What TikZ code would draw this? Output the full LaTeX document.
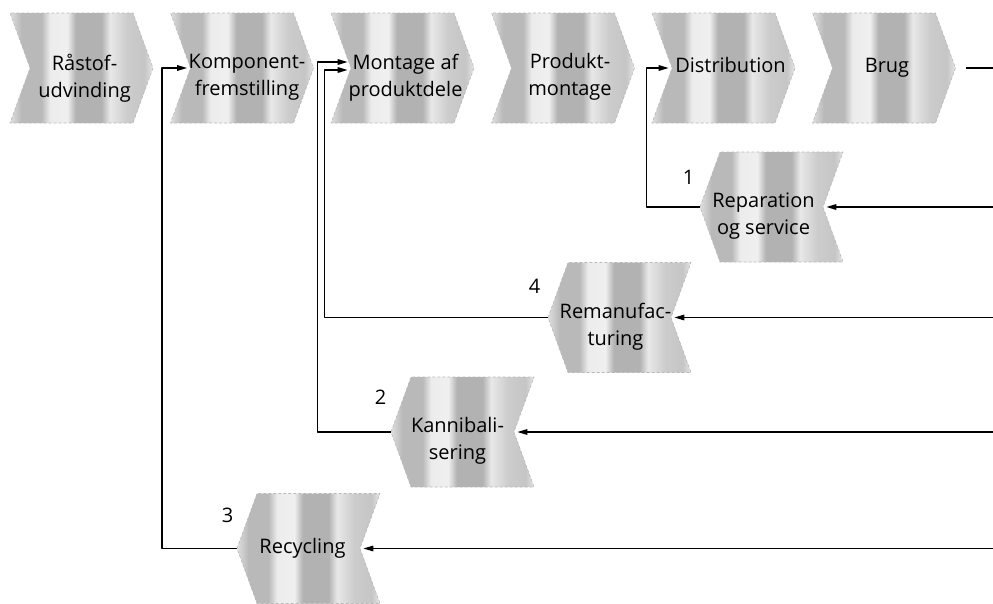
\documentclass[tikz,border=0pt]{standalone}
\usepackage{fontspec}
\setmainfont{Open Sans}
\usetikzlibrary{shapes.symbols,arrows.meta}

% scanned grey bands of the arrow boxes (tikz shows 25bp..75bp)
\pgfdeclarehorizontalshading{scanbands}{100bp}{%
  color(0bp)=(gray!25); color(25bp)=(gray!25); color(29bp)=(gray!55);
  color(36bp)=(gray!55); color(39bp)=(gray!15); color(45bp)=(gray!12);
  color(48bp)=(gray!60); color(57bp)=(gray!60); color(60bp)=(gray!18);
  color(66bp)=(gray!40); color(72bp)=(gray!45); color(75bp)=(gray!20);
  color(100bp)=(gray!20)}

\tikzset{
  stagebase/.style={signal, signal pointer angle=140, minimum width=143pt,
    minimum height=110pt, inner sep=0pt, shade, shading=scanbands,
    draw=gray!55, densely dashed, line width=0.6pt},
  stage/.style={stagebase, signal to=east, signal from=west},
  backstage/.style={stagebase, signal to=west, signal from=east},
  lbl/.style={font=\fontsize{20}{27}\selectfont, align=center, inner sep=0pt,
    anchor=north, execute at begin node=\strut},
  num/.style={font=\fontsize{20}{24}\selectfont, inner sep=0pt},
  flow/.style={-{Triangle[length=10pt,width=5.5pt]}, shorten >=3pt},
}

\begin{document}
\begin{tikzpicture}[x=1pt, y=-1pt, line width=1.5pt, line join=round]

  %% value chain
  \node[stage] (raastof) at (81.5,68) {};
  \node[stage] (komp)    at (242,68)  {};
  \node[stage] (mont)    at (402.5,68) {};
  \node[stage] (prod)    at (563,68)  {};
  \node[stage] (dist)    at (723.5,68) {};
  \node[stage] (brug)    at (884,68)  {};

  \node[lbl] (raastof-t) at ([shift={(3,-15)}]raastof.center) {Råstof-\\udvinding};
  \node[lbl] (komp-t)    at ([shift={(5,-15)}]komp.center) {Komponent-\\fremstilling};
  \node[lbl] (mont-t)    at ([shift={(3,-15)}]mont.center) {Montage af\\produktdele};
  \node[lbl] (prod-t)    at ([shift={(7,-15)}]prod.center) {Produkt-\\montage};
  \node[lbl] (dist-t)    at ([shift={(7,-15)}]dist.center) {Distribution};
  \node[lbl] (brug-t)    at ([shift={(3,-15)}]brug.center) {Brug};

  %% return loops
  \node[backstage] (rep) at (771.5,207)   {};
  \node[backstage] (rem) at (619.5,317.5) {};
  \node[backstage] (kan) at (462.5,432)   {};
  \node[backstage] (rec) at (308.5,548.5) {};

  \node[lbl] (rep-t) at ([shift={(-8,-15)}]rep.center) {Reparation\\og service};
  \node[lbl] (rem-t) at ([shift={(-4,-15)}]rem.center) {Remanufac-\\turing};
  \node[lbl] (kan-t) at ([shift={(-5,-15)}]kan.center) {Kannibali-\\sering};
  \node[lbl] (rec-t) at ([shift={(-6,-15)}]rec.center) {Recycling};

  \node[num] (n1) at ([shift={(-83,-30)}]rep.center) {1};
  \node[num] (n4) at ([shift={(-85,-31)}]rem.center) {4};
  \node[num] (n2) at ([shift={(-82,-35)}]kan.center) {2};
  \node[num] (n3) at ([shift={(-81,-33)}]rec.center) {3};

  %% connectors
  \coordinate (rim) at (993,0);
  \draw ([xshift=10pt]brug.0) -- (brug.0 -| rim);
  \draw[flow] (rep.0 -| rim) -- (rep.0);
  \draw[flow] (rem.0 -| rim) -- (rem.0);
  \draw[flow] (kan.0 -| rim) -- (kan.0);
  \draw[flow] (rec.0 -| rim) -- (rec.0);

  \draw[flow] (rep.180) -| ([xshift=-25pt]dist.180) -- (dist.180);
  \draw[flow] (rem.180) -| ([shift={(-26,2)}]mont.180) -- ([shift={(0,2)}]mont.180);
  \draw[flow] (kan.180) -| ([shift={(-33,-6)}]mont.180) -- ([shift={(0,-6)}]mont.180);
  \draw[flow] (rec.180) -| ([xshift=-28pt]komp.180) -- (komp.180);

  \pgfresetboundingbox
  \path[use as bounding box] (0,0) rectangle (993,603);
\end{tikzpicture}
\end{document}
